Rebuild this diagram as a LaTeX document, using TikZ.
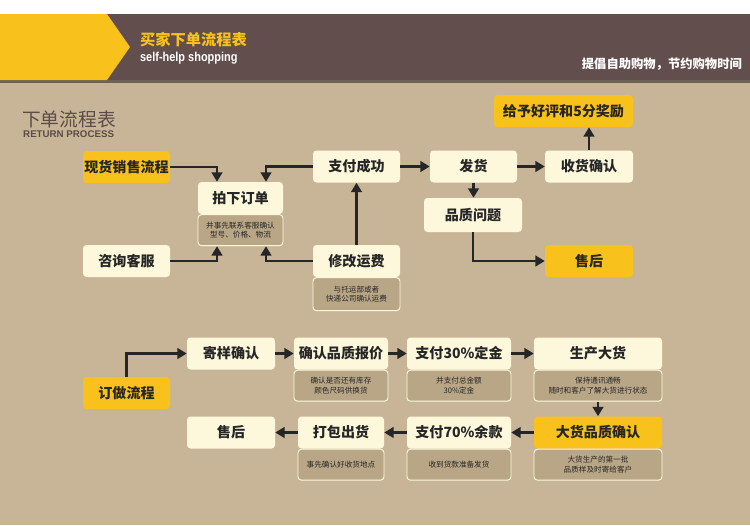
\documentclass[tikz,border=0pt]{standalone}
\usepackage{fontspec}
\setmainfont{Noto Sans CJK SC}
\newfontfamily\latinsans{Liberation Sans}
\newfontfamily\latincond[FakeStretch=0.85]{Liberation Sans}
\usetikzlibrary{arrows.meta, positioning, calc}
\definecolor{pagetan}{HTML}{C8B597}
\definecolor{bannerbrown}{HTML}{624F4D}
\definecolor{shopyellow}{HTML}{F8C11B}
\definecolor{boxcream}{HTML}{FDF8DC}
\definecolor{notetan}{HTML}{B9A686}
\definecolor{headgrey}{HTML}{5B4C47}

\begin{document}
\begin{tikzpicture}[x=0.03cm, y=-0.03cm,
    stepbox/.style={fill=boxcream, rounded corners=3pt, minimum width=#1*0.03cm,
                    minimum height=32*0.03cm, inner sep=1pt, font=\fontsize{12}{14}\selectfont\bfseries, text=black!85},
    stepbox/.default=87,
    hotbox/.style={stepbox=#1, fill=shopyellow},
    hotbox/.default=87,
    notebox/.style={fill=notetan, draw=boxcream, line width=0.8pt, rounded corners=3pt,
                    minimum width=#1*0.03cm, minimum height=31*0.03cm, inner sep=1pt,
                    align=center, font=\fontsize{6.5}{8}\selectfont, text=black!85},
    flow/.style={-{Triangle[length=8pt, width=9pt]}, line width=2.1pt, black!85},
]
    % background and banner
    \fill[pagetan] (0,0) rectangle (750,525);
    \fill[white] (0,0) rectangle (750,14);
    \fill[bannerbrown] (107,14) rectangle (750,80);
    \fill[black!45!pagetan] (0,80) rectangle (750,83);
    \fill[shopyellow] (0,14) -- (107,14) -- (130,47) -- (107,80) -- (0,80) -- cycle;
    \node[anchor=west, text=shopyellow, font=\fontsize{13}{15}\selectfont\bfseries] (title) at (136,40) {买家下单流程表};
    \node[anchor=west, text=white, font=\latincond\fontsize{11}{13}\selectfont\bfseries] (subtitle) at (136,58) {self-help shopping};
    \node[anchor=east, text=white, font=\fontsize{10.5}{12}\selectfont\bfseries] (slogan) at (746,64) {提倡自助购物，节约购物时间};

    % section heading
    \node[anchor=west, text=headgrey, font=\fontsize{16}{18}\selectfont, inner sep=0pt] (head) at (22,119) {下单流程表};
    \node[anchor=west, text=headgrey, font=\latinsans\fontsize{8.3}{10}\selectfont\bfseries, inner sep=0pt] (headen) at (23,134) {RETURN PROCESS};

    % === spot goods ===
    \node[hotbox] (sale) at (126.5,167) {现货销售流程};
    \node[stepbox=85] (order) at (240.5,198) {拍下订单};
    \node[notebox=85, anchor=north] (ordernote) at (order.south) {并事先联系客服确认\\型号、价格、物流};
    \node[stepbox] (paid) at (356.5,166.5) {支付成功};
    \node[stepbox] (ship) at (473.5,166.5) {发货};
    \node[stepbox=88] (recv) at (589,166.5) {收货确认};
    \node[hotbox=139] (praise) at (563.5,111) {给予好评和5分奖励};
    \node[stepbox=98, minimum height=34*0.03cm] (issue) at (473,215) {品质问题};
    \node[hotbox=88] (after) at (589,261) {售后};
    \node[stepbox] (consult) at (126.5,261) {咨询客服};
    \node[stepbox] (fee) at (356.5,261) {修改运费};
    \node[notebox=87, minimum height=33*0.03cm, anchor=north] (feenote) at (fee.south) {与托运部或者\\快递公司确认运费};

    \draw[flow] (sale.east) -| ($(order.north)+(-23.5,0)$);
    \draw[flow] (paid.west) -| ($(order.north)+(25.5,0)$);
    \draw[flow] (consult.east) -| ($(ordernote.south)+(-23.5,0)$);
    \draw[flow] (fee.west) -| ($(ordernote.south)+(25.5,0)$);
    \draw[flow] (fee.north) -- (paid.south);
    \draw[flow] (paid.east) -- (ship.west);
    \draw[flow] (ship.east) -- (recv.west);
    \draw[flow] (recv.north) -- (recv.north |- praise.south);
    \draw[flow] (ship.south) -- (ship.south |- issue.north);
    \draw[flow] (issue.south) |- (after.west);

    % === custom order ===
    \node[hotbox] (custom) at (126.5,393) {订做流程};
    \node[stepbox=88] (sample) at (231,353.5) {寄样确认};
    \node[stepbox=94] (quote) at (341,353.5) {确认品质报价};
    \node[notebox=94, anchor=north] (quotenote) at (quote.south) {确认是否还有库存\\颜色尺码供换货};
    \node[stepbox=104] (deposit) at (459,353.5) {支付30\%定金};
    \node[notebox=104, anchor=north] (depositnote) at (deposit.south) {并支付总金额\\30\%定金};
    \node[stepbox=128] (produce) at (598,353.5) {生产大货};
    \node[notebox=128, anchor=north] (producenote) at (produce.south) {保持通讯通畅\\随时和客户了解大货进行状态};
    \node[hotbox=128] (check) at (598,432.5) {大货品质确认};
    \node[notebox=128, anchor=north] (checknote) at (check.south) {大货生产的第一批\\品质样及时寄给客户};
    \node[stepbox=104] (balance) at (459,432.5) {支付70\%余款};
    \node[notebox=104, anchor=north] (balancenote) at (balance.south) {收到货款准备发货};
    \node[stepbox=86] (pack) at (341,432.5) {打包出货};
    \node[notebox=86, anchor=north] (packnote) at (pack.south) {事先确认好收货地点};
    \node[stepbox=88] (after2) at (231,432.5) {售后};

    \draw[flow] (custom.north) |- (sample.west);
    \draw[flow] (sample.east) -- (quote.west);
    \draw[flow] (quote.east) -- (deposit.west);
    \draw[flow] (deposit.east) -- (produce.west);
    \draw[flow] (producenote.south) -- (check.north);
    \draw[flow] (check.west) -- (balance.east);
    \draw[flow] (balance.west) -- (pack.east);
    \draw[flow] (pack.west) -- (after2.east);
\end{tikzpicture}
\end{document}
